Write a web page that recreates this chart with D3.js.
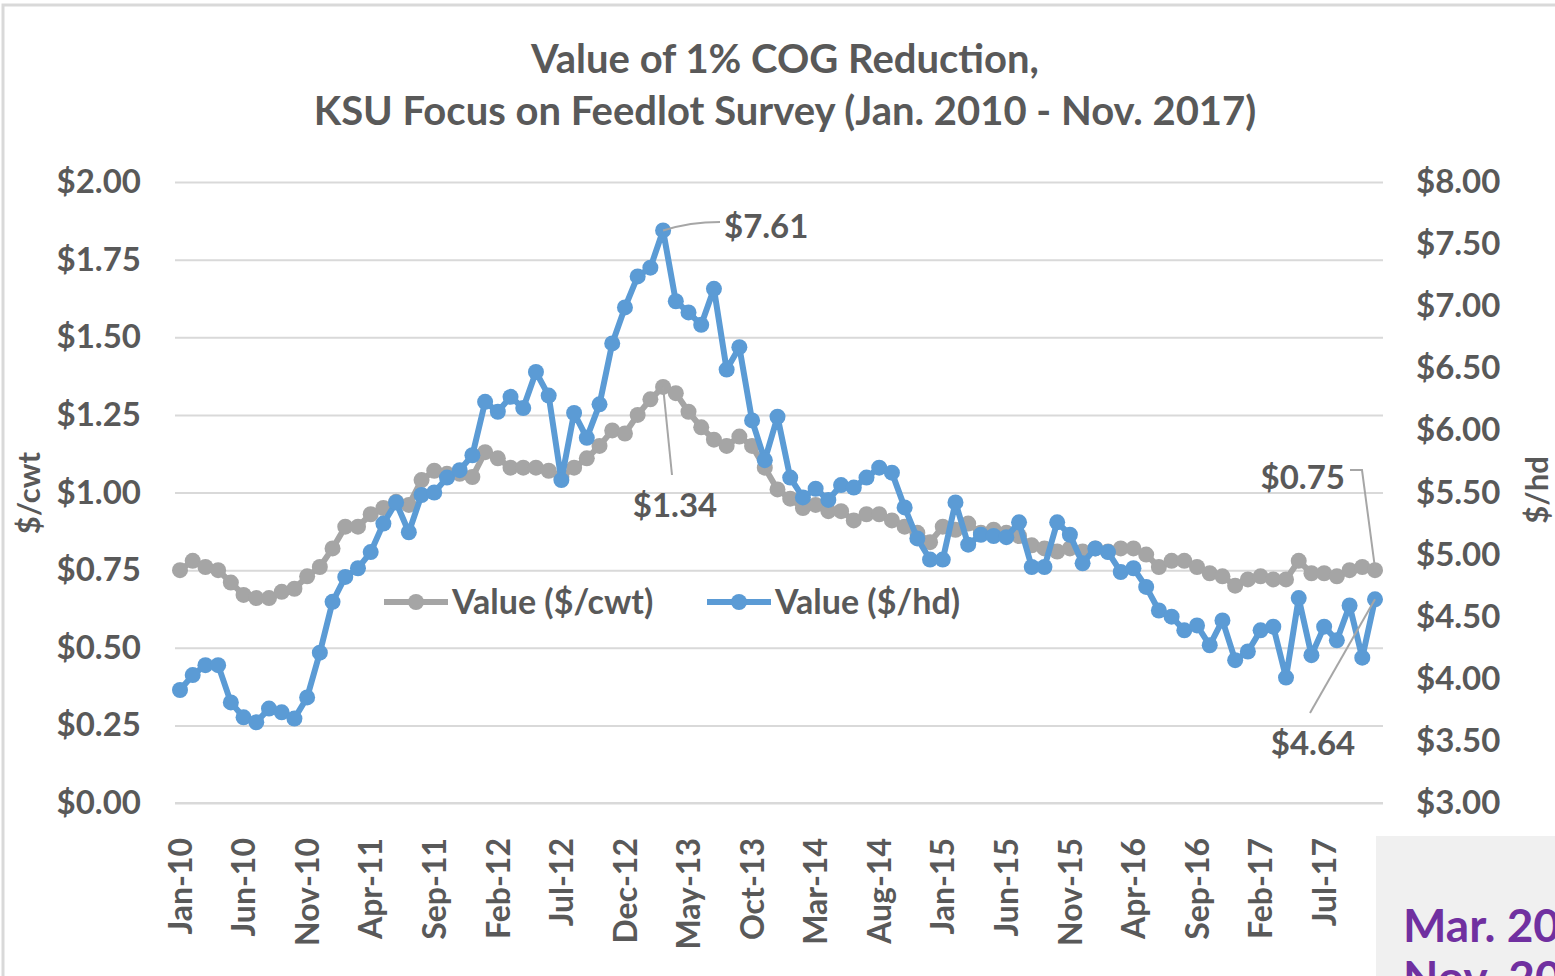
<!DOCTYPE html>
<html>
<head>
<meta charset="utf-8">
<script src="https://cdn.jsdelivr.net/npm/d3@7"></script>
<style>
  body { margin: 0; background: #fff; }
  svg { display: block; font-family: Lato, "Open Sans", sans-serif; }
</style>
</head>
<body>
<div id="viz"></div>
<script>
// monthly values, Jan 2010 .. Nov 2017
const cwtValues = [
  0.75, 0.78, 0.76, 0.75, 0.71, 0.67, 0.66, 0.66, 0.68, 0.69, 0.73, 0.76,
  0.82, 0.89, 0.89, 0.93, 0.95, 0.97, 0.96, 1.04, 1.07, 1.06, 1.06, 1.05,
  1.13, 1.11, 1.08, 1.08, 1.08, 1.07, 1.05, 1.08, 1.11, 1.15, 1.20, 1.19,
  1.25, 1.30, 1.34, 1.32, 1.26, 1.21, 1.17, 1.15, 1.18, 1.15, 1.08, 1.01,
  0.98, 0.95, 0.96, 0.94, 0.94, 0.91, 0.93, 0.93, 0.91, 0.89, 0.87, 0.84,
  0.89, 0.88, 0.90, 0.87, 0.88, 0.87, 0.86, 0.83, 0.82, 0.81, 0.82, 0.81,
  0.82, 0.81, 0.82, 0.82, 0.80, 0.76, 0.78, 0.78, 0.76, 0.74, 0.73, 0.70,
  0.72, 0.73, 0.72, 0.72, 0.78, 0.74, 0.74, 0.73, 0.75, 0.76, 0.75
];
const hdValues = [
  3.91, 4.03, 4.11, 4.11, 3.81, 3.69, 3.65, 3.76, 3.73, 3.68, 3.85, 4.21,
  4.62, 4.82, 4.89, 5.02, 5.25, 5.42, 5.18, 5.48, 5.50, 5.62, 5.68, 5.80,
  6.23, 6.15, 6.27, 6.18, 6.47, 6.28, 5.60, 6.14, 5.94, 6.21, 6.70, 6.99,
  7.24, 7.31, 7.61, 7.04, 6.95, 6.85, 7.14, 6.49, 6.67, 6.08, 5.76, 6.11,
  5.62, 5.46, 5.53, 5.44, 5.56, 5.54, 5.62, 5.70, 5.66, 5.38, 5.13, 4.96,
  4.96, 5.42, 5.08, 5.16, 5.15, 5.14, 5.26, 4.90, 4.90, 5.26, 5.16, 4.93,
  5.05, 5.02, 4.86, 4.89, 4.74, 4.55, 4.50, 4.39, 4.43, 4.27, 4.47, 4.15,
  4.22, 4.39, 4.42, 4.01, 4.65, 4.19, 4.42, 4.31, 4.59, 4.17, 4.64
];
const tickLabels = [
  'Jan-10', 'Jun-10', 'Nov-10', 'Apr-11', 'Sep-11', 'Feb-12', 'Jul-12', 'Dec-12',
  'May-13', 'Oct-13', 'Mar-14', 'Aug-14', 'Jan-15', 'Jun-15', 'Nov-15', 'Apr-16',
  'Sep-16', 'Feb-17', 'Jul-17'
];
const leftTicks = [0, 0.25, 0.5, 0.75, 1, 1.25, 1.5, 1.75, 2];
const rightTicks = [3, 3.5, 4, 4.5, 5, 5.5, 6, 6.5, 7, 7.5, 8];
const seriesNames = ['Value ($/cwt)', 'Value ($/hd)'];

const W = 1555, H = 976;
const textColor = '#595959';
const gray = '#a5a5a5';
const blue = '#5b9bd5';

const svg = d3.select('#viz').append('svg')
  .attr('width', W)
  .attr('height', H);

// chart frame
svg.append('path')
  .attr('d', `M3,${H} V5 H${W}`)
  .attr('fill', 'none')
  .attr('stroke', '#d9d9d9')
  .attr('stroke-width', 3);

const plotLeft = 175, plotRight = 1383, plotTop = 182, plotBottom = 803;

const x = d3.scaleLinear().domain([0, cwtValues.length - 1]).range([180, 1375]);
const yL = d3.scaleLinear().domain([0, 2]).range([plotBottom, plotTop]);
const yR = d3.scaleLinear().domain([3, 8]).range([plotBottom, plotTop]);

// title
const title = svg.append('text')
  .attr('text-anchor', 'middle')
  .attr('font-size', 40)
  .attr('font-weight', 'bold')
  .attr('fill', textColor);
title.append('tspan').attr('x', 785).attr('y', 73).text('Value of 1% COG Reduction,');
title.append('tspan').attr('x', 785).attr('y', 125).text('KSU Focus on Feedlot Survey (Jan. 2010 - Nov. 2017)');

// gridlines
svg.append('g')
  .attr('transform', `translate(${plotLeft},0)`)
  .call(d3.axisLeft(yL).tickValues(leftTicks).tickSize(-(plotRight - plotLeft)).tickFormat(''))
  .call(g => g.select('.domain').remove())
  .call(g => g.selectAll('line').attr('stroke', '#d9d9d9').attr('stroke-width', 2));

// left axis
svg.append('g')
  .attr('transform', `translate(${plotLeft},0)`)
  .call(d3.axisLeft(yL).tickValues(leftTicks).tickSize(0).tickPadding(34).tickFormat(d3.format('$.2f')))
  .call(g => g.select('.domain').remove())
  .call(g => g.selectAll('text')
    .attr('font-size', 33).attr('font-family', 'Lato, sans-serif')
    .attr('font-weight', 700).attr('fill', textColor));

// right axis
svg.append('g')
  .attr('transform', `translate(${plotRight},0)`)
  .call(d3.axisRight(yR).tickValues(rightTicks).tickSize(0).tickPadding(33).tickFormat(d3.format('$.2f')))
  .call(g => g.select('.domain').remove())
  .call(g => g.selectAll('text')
    .attr('font-size', 33).attr('font-family', 'Lato, sans-serif')
    .attr('font-weight', 700).attr('fill', textColor));

// bottom axis
svg.append('g')
  .attr('transform', `translate(0,${plotBottom})`)
  .call(d3.axisBottom(x)
    .tickValues(tickLabels.map((d, i) => i * 5))
    .tickSize(0)
    .tickFormat((d, i) => tickLabels[i]))
  .call(g => g.select('.domain').attr('stroke', '#d9d9d9').attr('stroke-width', 2)
    .attr('d', `M${plotLeft},0H${plotRight}`))
  .call(g => g.selectAll('text')
    .attr('font-size', 32).attr('font-family', 'Lato, sans-serif')
    .attr('font-weight', 700).attr('fill', textColor)
    .attr('text-anchor', 'end')
    .attr('transform', 'rotate(-90)')
    .attr('x', -35).attr('y', 0).attr('dy', '0.35em'));

// axis titles
svg.append('text')
  .attr('transform', 'translate(40,493) rotate(-90)')
  .attr('text-anchor', 'middle')
  .attr('font-size', 31).attr('font-weight', 700)
  .attr('fill', textColor)
  .text('$/cwt');
svg.append('text')
  .attr('transform', 'translate(1548,490) rotate(-90)')
  .attr('text-anchor', 'middle')
  .attr('font-size', 31).attr('font-weight', 700)
  .attr('fill', textColor)
  .text('$/hd');

// series
function drawSeries(values, yScale, color) {
  const g = svg.append('g');
  g.append('path')
    .datum(values)
    .attr('fill', 'none')
    .attr('stroke', color)
    .attr('stroke-width', 6)
    .attr('stroke-linejoin', 'round')
    .attr('d', d3.line().x((d, i) => x(i)).y(d => yScale(d)));
  g.selectAll('circle')
    .data(values)
    .join('circle')
    .attr('cx', (d, i) => x(i))
    .attr('cy', d => yScale(d))
    .attr('r', 8)
    .attr('fill', color);
}
drawSeries(cwtValues, yL, gray);
drawSeries(hdValues, yR, blue);

// legend
const legend = svg.append('g').attr('transform', 'translate(0,602)');
[{ x0: 384, color: gray, name: seriesNames[0] }, { x0: 707, color: blue, name: seriesNames[1] }]
  .forEach(item => {
    legend.append('line')
      .attr('x1', item.x0).attr('x2', item.x0 + 64)
      .attr('stroke', item.color).attr('stroke-width', 6);
    legend.append('circle')
      .attr('cx', item.x0 + 32).attr('r', 8).attr('fill', item.color);
    legend.append('text')
      .attr('x', item.x0 + 68).attr('dy', '0.35em')
      .attr('font-size', 34).attr('font-weight', 700)
      .attr('fill', textColor)
      .text(item.name);
  });

// data labels with leader lines
const peakIdx = hdValues.indexOf(d3.max(hdValues));
const cwtPeakIdx = cwtValues.indexOf(d3.max(cwtValues));
const lastIdx = cwtValues.length - 1;
const labelFmt = d3.format('$.2f');
const labels = [
  { px: x(peakIdx), py: yR(hdValues[peakIdx]), lx: 724, ly: 226, anchor: 'start',
    path: (px, py) => `M${px},${py} Q690,222 720,222`, text: labelFmt(hdValues[peakIdx]) },
  { px: x(cwtPeakIdx), py: yL(cwtValues[cwtPeakIdx]), lx: 675, ly: 505, anchor: 'middle',
    path: (px, py) => `M${px},${py} L672,475`, text: labelFmt(cwtValues[cwtPeakIdx]) },
  { px: x(lastIdx), py: yL(cwtValues[lastIdx]), lx: 1345, ly: 477, anchor: 'end',
    path: (px, py) => `M1350,470 H1362 L${px},${py - 2}`, text: labelFmt(cwtValues[lastIdx]) },
  { px: x(lastIdx), py: yR(hdValues[lastIdx]), lx: 1313, ly: 743, anchor: 'middle',
    path: (px, py) => `M1310,713 L${px},${py}`, text: labelFmt(hdValues[lastIdx]) }
];
labels.forEach(l => {
  svg.append('path')
    .attr('d', l.path(l.px, l.py))
    .attr('fill', 'none')
    .attr('stroke', '#a6a6a6')
    .attr('stroke-width', 2);
  svg.append('text')
    .attr('x', l.lx).attr('y', l.ly).attr('dy', '0.35em')
    .attr('text-anchor', l.anchor)
    .attr('font-size', 33).attr('font-weight', 700)
    .attr('fill', textColor)
    .text(l.text);
});

// overlapping slide box, bottom right (cut off by the picture edge, as in the source)
svg.append('rect')
  .attr('x', 1376).attr('y', 836)
  .attr('width', W - 1376).attr('height', H - 836)
  .attr('fill', '#f0f0f0');
const note = svg.append('text')
  .attr('font-size', 46).attr('font-weight', 'bold')
  .attr('fill', '#7030a0');
note.append('tspan').attr('x', 1403).attr('y', 942).text('Mar. 2017 -');
note.append('tspan').attr('x', 1403).attr('y', 994).text('Nov. 2017');
</script>
</body>
</html>
